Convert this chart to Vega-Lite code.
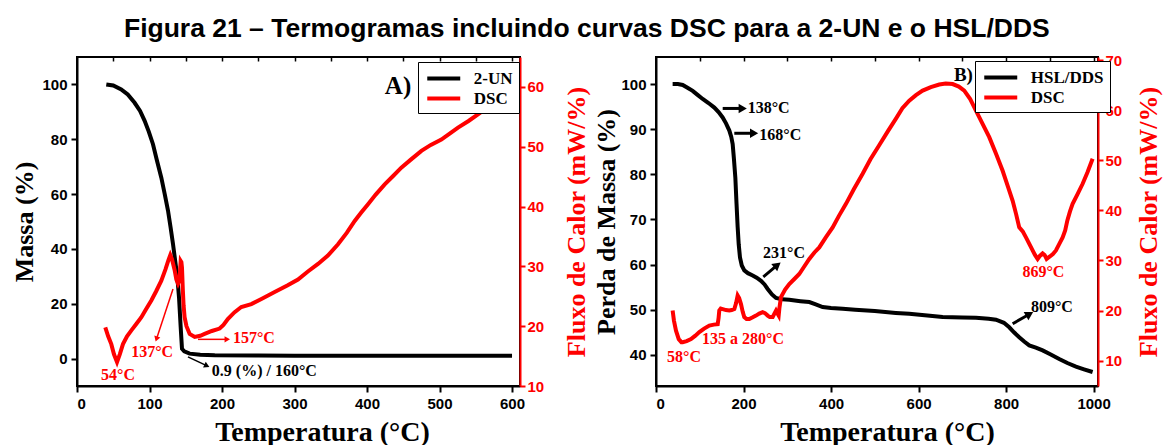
{
  "$schema": "https://vega.github.io/schema/vega-lite/v6.json",
  "title": {"text": "Figura 21 – Termogramas incluindo curvas DSC para a 2-UN e o HSL/DDS", "font": "Liberation Sans", "fontSize": 26.5, "fontWeight": "bold", "color": "black", "anchor": "middle", "offset": 10},
  "padding": {"left": 10, "top": 15, "right": 0, "bottom": 0},
  "spacing": 1,
  "config": {
    "view": {"stroke": "black", "strokeWidth": 2},
    "axis": {"labelFont": "Liberation Sans", "labelFontSize": 15, "labelFontWeight": "bold", "labelColor": "black", "titleFont": "Liberation Serif", "titleFontWeight": "bold", "titleFontSize": 26, "titleColor": "black", "domainColor": "black", "domainWidth": 2, "tickColor": "black", "tickWidth": 2, "tickSize": 6, "grid": false, "labelPadding": 4, "format": "d"},
    "legend": {"orient": "none", "title": null, "labelFont": "Liberation Serif", "labelFontSize": 17, "labelFontWeight": "bold", "labelColor": "black", "symbolType": "M-2,0H2", "symbolSize": 272, "symbolStrokeWidth": 4, "strokeColor": "black", "fillColor": "white", "padding": 6, "rowPadding": 1, "labelOffset": 19.5, "symbolOffset": 9.25},
    "text": {"font": "Liberation Serif", "fontWeight": "bold", "fontSize": 16}
  },
  "resolve": {"scale": {"color": "independent"}},
  "hconcat": [
    {
      "width": 443,
      "height": 329,
      "resolve": {"scale": {"y": "independent"}, "axis": {"x": "independent"}},
      "layer": [
        {
          "layer": [
            {
              "data": {"values": [
                {"T": 40.4, "v": 100}, {"T": 50, "v": 99.6}, {"T": 61, "v": 98.2}, {"T": 70, "v": 96.3}, {"T": 79.5, "v": 93.3}, {"T": 87, "v": 90.3}, {"T": 93.3, "v": 86.7}, {"T": 99, "v": 82.8}, {"T": 104.8, "v": 78.2}, {"T": 110, "v": 72.5}, {"T": 116.3, "v": 66}, {"T": 121, "v": 60}, {"T": 125.5, "v": 54}, {"T": 129, "v": 48}, {"T": 132.4, "v": 41.8}, {"T": 135.5, "v": 35.5}, {"T": 138.4, "v": 29.7}, {"T": 140.8, "v": 22}, {"T": 143, "v": 11.5}, {"T": 144.8, "v": 3.6}, {"T": 148, "v": 2.6}, {"T": 155.4, "v": 1.8}, {"T": 170, "v": 1.4}, {"T": 190, "v": 1.2}, {"T": 250, "v": 1.1}, {"T": 300, "v": 1.05}, {"T": 400, "v": 1.0}, {"T": 500, "v": 1.0}, {"T": 600, "v": 1.0}
              ]},
              "mark": {"type": "line", "strokeWidth": 4},
              "encoding": {
                "x": {"field": "T", "type": "quantitative", "scale": {"domain": [0, 611], "nice": false, "zero": false}, "axis": {"values": [0, 100, 200, 300, 400, 500, 600], "title": "Temperatura (°C)", "titleFontSize": 28, "titlePadding": 7, "titleX": 245, "labelPadding": 4}},
                "y": {"field": "v", "type": "quantitative", "scale": {"domain": [-10, 110], "nice": false, "zero": false}, "axis": {"values": [0, 20, 40, 60, 80, 100], "title": "Massa (%)", "titlePadding": 4}},
                "color": {"datum": "2-UN", "type": "nominal", "scale": {"domain": ["2-UN", "DSC"], "range": ["black", "red"]}, "legend": {"legendX": 341, "legendY": 5}}
              }
            },
            {
              "data": {"values": [
                {"T": 186, "v": -4.5, "txt": "0.9 (%) / 160°C"}
              ]},
              "mark": {"type": "text", "align": "left", "baseline": "middle", "color": "black"},
              "encoding": {
                "x": {"field": "T", "type": "quantitative", "scale": {"domain": [0, 611], "nice": false, "zero": false}},
                "y": {"field": "v", "type": "quantitative", "scale": {"domain": [-10, 110], "nice": false, "zero": false}},
                "text": {"field": "txt"}
              }
            },
            {
              "data": {"values": [
                {"T": 442.8, "v": 99.3, "txt": "A)"}
              ]},
              "mark": {"type": "text", "align": "center", "baseline": "middle", "color": "black", "fontSize": 25},
              "encoding": {
                "x": {"field": "T", "type": "quantitative", "scale": {"domain": [0, 611], "nice": false, "zero": false}},
                "y": {"field": "v", "type": "quantitative", "scale": {"domain": [-10, 110], "nice": false, "zero": false}},
                "text": {"field": "txt"}
              }
            },
            {
              "data": {"values": [
                {"T": 153, "v": 0.6, "T2": 178, "v2": -2.5}
              ]},
              "mark": {"type": "rule", "strokeWidth": 1.5, "color": "black"},
              "encoding": {
                "x": {"field": "T", "type": "quantitative", "scale": {"domain": [0, 611], "nice": false, "zero": false}},
                "y": {"field": "v", "type": "quantitative", "scale": {"domain": [-10, 110], "nice": false, "zero": false}},
                "x2": {"field": "T2"},
                "y2": {"field": "v2"}
              }
            },
            {
              "data": {"values": [
                {"T": 178, "v": -2.5}
              ]},
              "mark": {"type": "point", "shape": "triangle", "angle": 115, "filled": true, "size": 40, "color": "black", "opacity": 1},
              "encoding": {
                "x": {"field": "T", "type": "quantitative", "scale": {"domain": [0, 611], "nice": false, "zero": false}},
                "y": {"field": "v", "type": "quantitative", "scale": {"domain": [-10, 110], "nice": false, "zero": false}}
              }
            }
          ]
        },
        {
          "layer": [
            {
              "data": {"values": [
                {"T": 39, "v": 19.8}, {"T": 43, "v": 18.3}, {"T": 47.3, "v": 17}, {"T": 51, "v": 15.3}, {"T": 55.2, "v": 14.0}, {"T": 59, "v": 15.3}, {"T": 63.4, "v": 17}, {"T": 69, "v": 18.3}, {"T": 75, "v": 19.3}, {"T": 82, "v": 20.4}, {"T": 88.8, "v": 21.5}, {"T": 95, "v": 22.8}, {"T": 102.5, "v": 24.3}, {"T": 109, "v": 25.8}, {"T": 116.3, "v": 27.6}, {"T": 122, "v": 29.5}, {"T": 126, "v": 31}, {"T": 128.7, "v": 31.9}, {"T": 131, "v": 31.2}, {"T": 134.8, "v": 29.3}, {"T": 137, "v": 27.8}, {"T": 139.3, "v": 27.1}, {"T": 141, "v": 27.6}, {"T": 142, "v": 29}, {"T": 143, "v": 30.9}, {"T": 144, "v": 30.7}, {"T": 144.8, "v": 29.8}, {"T": 146, "v": 26}, {"T": 147, "v": 23.5}, {"T": 148.4, "v": 21.5}, {"T": 151, "v": 20}, {"T": 155.4, "v": 18.7}, {"T": 162.3, "v": 18.2}, {"T": 170, "v": 18.4}, {"T": 176, "v": 18.7}, {"T": 186, "v": 19.2}, {"T": 196.7, "v": 19.6}, {"T": 202, "v": 20.2}, {"T": 208, "v": 21.2}, {"T": 217, "v": 22.3}, {"T": 226.6, "v": 23.2}, {"T": 240.4, "v": 23.7}, {"T": 255, "v": 24.6}, {"T": 272.6, "v": 25.7}, {"T": 290, "v": 26.8}, {"T": 304.8, "v": 27.8}, {"T": 318, "v": 29.1}, {"T": 332.4, "v": 30.4}, {"T": 346, "v": 31.8}, {"T": 360, "v": 33.7}, {"T": 372, "v": 35.6}, {"T": 383, "v": 37.6}, {"T": 392, "v": 39}, {"T": 401.4, "v": 40.4}, {"T": 412, "v": 42}, {"T": 424.4, "v": 43.7}, {"T": 436, "v": 45.1}, {"T": 447.3, "v": 46.5}, {"T": 460, "v": 47.8}, {"T": 475, "v": 49.3}, {"T": 488, "v": 50.3}, {"T": 502.5, "v": 51.2}, {"T": 514, "v": 52.2}, {"T": 525.5, "v": 53.2}, {"T": 540, "v": 54.3}, {"T": 553, "v": 55.4}, {"T": 565, "v": 56.5}, {"T": 576, "v": 57.6}, {"T": 588, "v": 58.2}, {"T": 599, "v": 58.7}
              ]},
              "mark": {"type": "line", "strokeWidth": 4},
              "encoding": {
                "x": {"field": "T", "type": "quantitative", "scale": {"domain": [0, 611], "nice": false, "zero": false}, "axis": {"orient": "top", "values": [50, 100, 150, 200, 250, 300, 350, 400, 450, 500, 550, 600], "labels": false, "title": null, "domain": false, "tickSize": -4, "tickWidth": 1.5}},
                "y": {"field": "v", "type": "quantitative", "scale": {"domain": [10, 65], "nice": false, "zero": false}, "axis": {"orient": "right", "values": [10, 20, 30, 40, 50, 60], "title": "Fluxo de Calor (mW/%)", "titleAngle": 270, "titleBaseline": "top", "titlePadding": 20, "tickSize": 5, "labelPadding": 2, "titleColor": "red", "labelColor": "red", "domainColor": "red", "tickColor": "red"}},
                "color": {"datum": "DSC", "type": "nominal", "scale": {"domain": ["2-UN", "DSC"], "range": ["black", "red"]}, "legend": {"legendX": 341, "legendY": 5}}
              }
            },
            {
              "data": {"values": [
                {"T": 56.6, "v": 11.9, "txt": "54°C"},
                {"T": 103.6, "v": 15.7, "txt": "137°C"}
              ]},
              "mark": {"type": "text", "align": "center", "baseline": "middle", "color": "red"},
              "encoding": {
                "x": {"field": "T", "type": "quantitative", "scale": {"domain": [0, 611], "nice": false, "zero": false}},
                "y": {"field": "v", "type": "quantitative", "scale": {"domain": [10, 65], "nice": false, "zero": false}},
                "text": {"field": "txt"}
              }
            },
            {
              "data": {"values": [
                {"T": 215, "v": 18.05, "txt": "157°C"}
              ]},
              "mark": {"type": "text", "align": "left", "baseline": "middle", "color": "red"},
              "encoding": {
                "x": {"field": "T", "type": "quantitative", "scale": {"domain": [0, 611], "nice": false, "zero": false}},
                "y": {"field": "v", "type": "quantitative", "scale": {"domain": [10, 65], "nice": false, "zero": false}},
                "text": {"field": "txt"}
              }
            },
            {
              "data": {"values": [
                {"T": 132.4, "v": 26.2, "T2": 110, "v2": 18.0},
                {"T": 166.9, "v": 17.8, "T2": 206, "v2": 17.8}
              ]},
              "mark": {"type": "rule", "strokeWidth": 1.5, "color": "red"},
              "encoding": {
                "x": {"field": "T", "type": "quantitative", "scale": {"domain": [0, 611], "nice": false, "zero": false}},
                "y": {"field": "v", "type": "quantitative", "scale": {"domain": [10, 65], "nice": false, "zero": false}},
                "x2": {"field": "T2"},
                "y2": {"field": "v2"}
              }
            },
            {
              "data": {"values": [
                {"T": 110, "v": 18.0}
              ]},
              "mark": {"type": "point", "shape": "triangle", "angle": 198, "filled": true, "size": 40, "color": "red", "opacity": 1},
              "encoding": {
                "x": {"field": "T", "type": "quantitative", "scale": {"domain": [0, 611], "nice": false, "zero": false}},
                "y": {"field": "v", "type": "quantitative", "scale": {"domain": [10, 65], "nice": false, "zero": false}}
              }
            },
            {
              "data": {"values": [
                {"T": 206, "v": 17.8}
              ]},
              "mark": {"type": "point", "shape": "triangle", "angle": 90, "filled": true, "size": 40, "color": "red", "opacity": 1},
              "encoding": {
                "x": {"field": "T", "type": "quantitative", "scale": {"domain": [0, 611], "nice": false, "zero": false}},
                "y": {"field": "v", "type": "quantitative", "scale": {"domain": [10, 65], "nice": false, "zero": false}}
              }
            }
          ]
        }
      ]
    },
    {
      "width": 442,
      "height": 329,
      "resolve": {"scale": {"y": "independent"}, "axis": {"x": "independent"}},
      "layer": [
        {
          "layer": [
            {
              "data": {"values": [
                {"T": 38, "v": 100}, {"T": 50, "v": 100}, {"T": 61, "v": 99.8}, {"T": 72, "v": 99.2}, {"T": 83.8, "v": 98.5}, {"T": 95, "v": 97.6}, {"T": 106.7, "v": 96.7}, {"T": 120, "v": 95.8}, {"T": 133.3, "v": 94.8}, {"T": 143, "v": 93.8}, {"T": 152.3, "v": 92.6}, {"T": 160, "v": 91.3}, {"T": 167.6, "v": 89.7}, {"T": 172, "v": 88.3}, {"T": 175.2, "v": 86.7}, {"T": 178, "v": 83.5}, {"T": 181.3, "v": 79.3}, {"T": 184, "v": 73.5}, {"T": 186.6, "v": 68.3}, {"T": 189, "v": 64.5}, {"T": 191.9, "v": 61.6}, {"T": 196, "v": 59.8}, {"T": 201.8, "v": 58.7}, {"T": 210, "v": 58.1}, {"T": 220.9, "v": 57.6}, {"T": 230, "v": 57.1}, {"T": 239.9, "v": 56.4}, {"T": 248, "v": 55.6}, {"T": 255.2, "v": 54.6}, {"T": 265, "v": 53.4}, {"T": 274.2, "v": 52.6}, {"T": 288, "v": 52.3}, {"T": 304.6, "v": 52.2}, {"T": 330, "v": 51.9}, {"T": 350.3, "v": 51.7}, {"T": 365, "v": 51.2}, {"T": 380.8, "v": 50.6}, {"T": 400, "v": 50.4}, {"T": 426.5, "v": 50.2}, {"T": 455, "v": 50.0}, {"T": 500, "v": 49.7}, {"T": 548, "v": 49.3}, {"T": 578.7, "v": 49.1}, {"T": 620, "v": 48.7}, {"T": 655, "v": 48.4}, {"T": 700, "v": 48.3}, {"T": 731, "v": 48.2}, {"T": 760, "v": 48}, {"T": 776.8, "v": 47.8}, {"T": 795, "v": 47.1}, {"T": 807.2, "v": 46.1}, {"T": 818, "v": 45}, {"T": 830, "v": 43.9}, {"T": 842, "v": 42.9}, {"T": 852.9, "v": 42.1}, {"T": 868, "v": 41.6}, {"T": 883.5, "v": 41}, {"T": 902, "v": 40.1}, {"T": 921.4, "v": 39.1}, {"T": 940, "v": 38.2}, {"T": 959.6, "v": 37.4}, {"T": 978, "v": 36.8}, {"T": 997.7, "v": 36.2}
              ]},
              "mark": {"type": "line", "strokeWidth": 4},
              "encoding": {
                "x": {"field": "T", "type": "quantitative", "scale": {"domain": [0, 1010], "nice": false, "zero": false}, "axis": {"values": [0, 200, 400, 600, 800, 1000], "title": "Temperatura (°C)", "titleFontSize": 28, "titlePadding": 7, "titleX": 231, "labelPadding": 4}},
                "y": {"field": "v", "type": "quantitative", "scale": {"domain": [33.1, 106], "nice": false, "zero": false}, "axis": {"values": [40, 50, 60, 70, 80, 90, 100], "title": "Perda de Massa (%)", "titlePadding": 1}},
                "color": {"datum": "HSL/DDS", "type": "nominal", "scale": {"domain": ["HSL/DDS", "DSC"], "range": ["black", "red"]}, "legend": {"legendX": 319, "legendY": 4}}
              }
            },
            {
              "data": {"values": [
                {"T": 209.5, "v": 94.8, "txt": "138°C"},
                {"T": 236, "v": 88.7, "txt": "168°C"},
                {"T": 244.5, "v": 62.5, "txt": "231°C"},
                {"T": 856.7, "v": 50.7, "txt": "809°C"}
              ]},
              "mark": {"type": "text", "align": "left", "baseline": "middle", "color": "black"},
              "encoding": {
                "x": {"field": "T", "type": "quantitative", "scale": {"domain": [0, 1010], "nice": false, "zero": false}},
                "y": {"field": "v", "type": "quantitative", "scale": {"domain": [33.1, 106], "nice": false, "zero": false}},
                "text": {"field": "txt"}
              }
            },
            {
              "data": {"values": [
                {"T": 702.5, "v": 102, "txt": "B)"}
              ]},
              "mark": {"type": "text", "align": "center", "baseline": "middle", "color": "black", "fontSize": 19},
              "encoding": {
                "x": {"field": "T", "type": "quantitative", "scale": {"domain": [0, 1010], "nice": false, "zero": false}},
                "y": {"field": "v", "type": "quantitative", "scale": {"domain": [33.1, 106], "nice": false, "zero": false}},
                "text": {"field": "txt"}
              }
            },
            {
              "data": {"values": [
                {"T": 152.4, "v": 94.6, "T2": 195, "v2": 94.6},
                {"T": 178.9, "v": 89.1, "T2": 221, "v2": 89.1},
                {"T": 245.2, "v": 57.3, "T2": 275, "v2": 59.7},
                {"T": 815, "v": 46.9, "T2": 851, "v2": 48.9}
              ]},
              "mark": {"type": "rule", "strokeWidth": 3, "color": "black"},
              "encoding": {
                "x": {"field": "T", "type": "quantitative", "scale": {"domain": [0, 1010], "nice": false, "zero": false}},
                "y": {"field": "v", "type": "quantitative", "scale": {"domain": [33.1, 106], "nice": false, "zero": false}},
                "x2": {"field": "T2"},
                "y2": {"field": "v2"}
              }
            },
            {
              "data": {"values": [
                {"T": 195, "v": 94.6},
                {"T": 221, "v": 89.1}
              ]},
              "mark": {"type": "point", "shape": "triangle", "angle": 90, "filled": true, "size": 90, "color": "black", "opacity": 1},
              "encoding": {
                "x": {"field": "T", "type": "quantitative", "scale": {"domain": [0, 1010], "nice": false, "zero": false}},
                "y": {"field": "v", "type": "quantitative", "scale": {"domain": [33.1, 106], "nice": false, "zero": false}}
              }
            },
            {
              "data": {"values": [
                {"T": 275, "v": 59.7}
              ]},
              "mark": {"type": "point", "shape": "triangle", "angle": 51, "filled": true, "size": 90, "color": "black", "opacity": 1},
              "encoding": {
                "x": {"field": "T", "type": "quantitative", "scale": {"domain": [0, 1010], "nice": false, "zero": false}},
                "y": {"field": "v", "type": "quantitative", "scale": {"domain": [33.1, 106], "nice": false, "zero": false}}
              }
            },
            {
              "data": {"values": [
                {"T": 851, "v": 48.9}
              ]},
              "mark": {"type": "point", "shape": "triangle", "angle": 60, "filled": true, "size": 90, "color": "black", "opacity": 1},
              "encoding": {
                "x": {"field": "T", "type": "quantitative", "scale": {"domain": [0, 1010], "nice": false, "zero": false}},
                "y": {"field": "v", "type": "quantitative", "scale": {"domain": [33.1, 106], "nice": false, "zero": false}}
              }
            }
          ]
        },
        {
          "layer": [
            {
              "data": {"values": [
                {"T": 38, "v": 20}, {"T": 41, "v": 18}, {"T": 45.7, "v": 16}, {"T": 52, "v": 14.3}, {"T": 58, "v": 13.7}, {"T": 61, "v": 13.7}, {"T": 70, "v": 13.9}, {"T": 80, "v": 14.3}, {"T": 90, "v": 15}, {"T": 99, "v": 15.7}, {"T": 110, "v": 16.4}, {"T": 121.8, "v": 17}, {"T": 132, "v": 17.2}, {"T": 141, "v": 17.3}, {"T": 143, "v": 18.5}, {"T": 144.6, "v": 20}, {"T": 148, "v": 20.4}, {"T": 152.4, "v": 20.3}, {"T": 160, "v": 20.1}, {"T": 167.5, "v": 20}, {"T": 173, "v": 20.1}, {"T": 179, "v": 20.3}, {"T": 183, "v": 21.5}, {"T": 186.6, "v": 23}, {"T": 190, "v": 22.5}, {"T": 194.2, "v": 21.3}, {"T": 198, "v": 19.8}, {"T": 201.7, "v": 18.7}, {"T": 207, "v": 18.3}, {"T": 213.2, "v": 18.3}, {"T": 220, "v": 18.6}, {"T": 228.5, "v": 19}, {"T": 236, "v": 19.4}, {"T": 243.7, "v": 19.7}, {"T": 249, "v": 19.5}, {"T": 255.2, "v": 19}, {"T": 260, "v": 18.7}, {"T": 266.6, "v": 18.7}, {"T": 270, "v": 19.3}, {"T": 274.2, "v": 20}, {"T": 277, "v": 19.5}, {"T": 280.3, "v": 19}, {"T": 282, "v": 20.5}, {"T": 285.6, "v": 22.7}, {"T": 295, "v": 24.2}, {"T": 304.6, "v": 25.3}, {"T": 315, "v": 26.2}, {"T": 327.4, "v": 27.3}, {"T": 338, "v": 28.7}, {"T": 350.3, "v": 30.3}, {"T": 362, "v": 31.6}, {"T": 373.1, "v": 32.6}, {"T": 388, "v": 34.6}, {"T": 403.7, "v": 36.6}, {"T": 418, "v": 38.9}, {"T": 434.1, "v": 41.3}, {"T": 452, "v": 44.2}, {"T": 472.2, "v": 47.3}, {"T": 490, "v": 50.2}, {"T": 510, "v": 53}, {"T": 530, "v": 55.8}, {"T": 548.3, "v": 58.3}, {"T": 563, "v": 60.4}, {"T": 578.7, "v": 61.9}, {"T": 594, "v": 63}, {"T": 609.3, "v": 63.9}, {"T": 628, "v": 64.6}, {"T": 647.3, "v": 65.1}, {"T": 662, "v": 65.3}, {"T": 677.9, "v": 65.2}, {"T": 692, "v": 64.7}, {"T": 704.4, "v": 63.9}, {"T": 718, "v": 62.2}, {"T": 731.1, "v": 59.9}, {"T": 746, "v": 57.3}, {"T": 761.5, "v": 54.6}, {"T": 777, "v": 51.3}, {"T": 792.1, "v": 47.9}, {"T": 804, "v": 44.8}, {"T": 815, "v": 41.9}, {"T": 823, "v": 39.2}, {"T": 830, "v": 36.6}, {"T": 838, "v": 35.8}, {"T": 845.4, "v": 34.6}, {"T": 853, "v": 33.3}, {"T": 860.6, "v": 32}, {"T": 866, "v": 31.1}, {"T": 872, "v": 30.3}, {"T": 877, "v": 30.9}, {"T": 883.5, "v": 31.4}, {"T": 888, "v": 31.1}, {"T": 892.6, "v": 30.3}, {"T": 900, "v": 30.8}, {"T": 907, "v": 31.3}, {"T": 913.9, "v": 32}, {"T": 921, "v": 33.2}, {"T": 929.2, "v": 34.6}, {"T": 935, "v": 36}, {"T": 940, "v": 38}, {"T": 946, "v": 39.8}, {"T": 952, "v": 41.3}, {"T": 963, "v": 43.2}, {"T": 974.9, "v": 45.3}, {"T": 986, "v": 47.6}, {"T": 997.7, "v": 50.3}
              ]},
              "mark": {"type": "line", "strokeWidth": 4},
              "encoding": {
                "x": {"field": "T", "type": "quantitative", "scale": {"domain": [0, 1010], "nice": false, "zero": false}, "axis": {"orient": "top", "values": [100, 200, 300, 400, 500, 600, 700, 800, 900, 1000], "labels": false, "title": null, "domain": false, "tickSize": -4, "tickWidth": 1.5}},
                "y": {"field": "v", "type": "quantitative", "scale": {"domain": [4.95, 70.6], "nice": false, "zero": false}, "axis": {"orient": "right", "values": [10, 20, 30, 40, 50, 60, 70], "title": "Fluxo de Calor (mW/%)", "titleAngle": 270, "titleBaseline": "top", "titlePadding": 14, "tickSize": 5, "labelPadding": 2, "titleColor": "red", "labelColor": "red", "domainColor": "red", "tickColor": "red"}},
                "color": {"datum": "DSC", "type": "nominal", "scale": {"domain": ["HSL/DDS", "DSC"], "range": ["black", "red"]}, "legend": {"legendX": 319, "legendY": 4}}
              }
            },
            {
              "data": {"values": [
                {"T": 64, "v": 10.8, "txt": "58°C"},
                {"T": 198.8, "v": 14.3, "txt": "135 a 280°C"},
                {"T": 885.3, "v": 27.6, "txt": "869°C"}
              ]},
              "mark": {"type": "text", "align": "center", "baseline": "middle", "color": "red"},
              "encoding": {
                "x": {"field": "T", "type": "quantitative", "scale": {"domain": [0, 1010], "nice": false, "zero": false}},
                "y": {"field": "v", "type": "quantitative", "scale": {"domain": [4.95, 70.6], "nice": false, "zero": false}},
                "text": {"field": "txt"}
              }
            }
          ]
        }
      ]
    }
  ]
}
